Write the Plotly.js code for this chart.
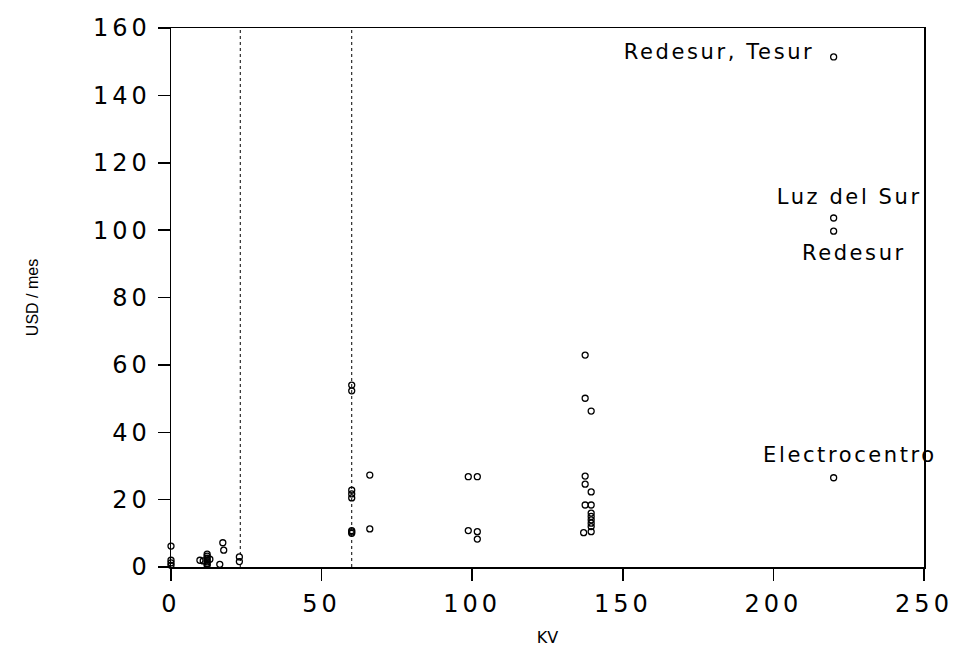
<!DOCTYPE html>
<html>
<head>
<meta charset="utf-8">
<script src="https://cdn.plot.ly/plotly-3.0.1.min.js"></script>
<style>
html,body{margin:0;padding:0;background:#fff;}
#chart{width:953px;height:663px;}
#chart .xtick text, #chart .ytick text {letter-spacing: 4px;}
#chart .annotation-text {letter-spacing: 2.6px;}
</style>
</head>
<body>
<div id="chart"></div>
<script>
// Voltage level (kV) of each observation
const kv = [0, 0, 0, 0, 9.6, 10.7, 12, 12, 12, 12, 12, 12, 12, 12.9, 16.2, 17.2, 17.5, 22.7, 22.7,
  60, 60, 60, 60, 60, 60, 60, 60, 66, 66,
  98.7, 98.7, 101.7, 101.7, 101.7,
  137.5, 137.5, 139.5, 137.5, 137.5, 139.5, 137.5, 139.5, 139.5, 139.5, 139.5, 139.5, 139.5, 137, 139.5,
  220, 220, 220, 220];
// Cost (USD / mes) of each observation
const usd = [6.2, 2, 1.2, 0.5, 2, 1.8, 3.8, 3.2, 2.6, 2, 1.5, 1, 0.5, 2.3, 0.8, 7.2, 5, 3, 1.6,
  54, 52.3, 22.8, 21.7, 20.5, 10.8, 10.4, 10, 27.3, 11.3,
  26.8, 10.8, 26.8, 10.5, 8.3,
  62.9, 50.1, 46.3, 27, 24.6, 22.3, 18.4, 18.4, 16, 15, 14, 13, 12, 10.2, 10.5,
  151.4, 103.6, 99.7, 26.5];
// Reference voltage lines (kV)
const refKV = [23, 60];
const yRange = [0, 160];
const xTicks = [0, 50, 100, 150, 200, 250];
const yTicks = [0, 20, 40, 60, 80, 100, 120, 140, 160];
// Labels for named companies
const labelText = ["Redesur, Tesur", "Luz del Sur", "Redesur", "Electrocentro"];
const labelX = [181.8, 225.3, 226.8, 225.4];
const labelY = [152.8, 109.8, 93.2, 33.2];

const FONT = "DejaVu Sans, Liberation Sans, Arial, sans-serif";

const traces = refKV.map(v => ({
  x: [v, v], y: yRange, mode: "lines", type: "scatter",
  line: {color: "#000", width: 1, dash: "dot"}, hoverinfo: "skip", showlegend: false
}));
traces.push({
  x: kv, y: usd, mode: "markers", type: "scatter", cliponaxis: false,
  marker: {symbol: "circle-open", size: 6, color: "#000", line: {color: "#000", width: 1.3}},
  showlegend: false
});

const annotations = labelText.map((t, i) => ({
  text: t, x: labelX[i], y: labelY[i], xref: "x", yref: "y",
  showarrow: false, xanchor: "center", yanchor: "middle",
  font: {family: FONT, size: 21, color: "#000"}
}));

const layout = {
  width: 953, height: 663,
  margin: {l: 171, r: 29, t: 28, b: 96},
  paper_bgcolor: "#fff", plot_bgcolor: "#fff",
  xaxis: {
    range: [0, 250], tickvals: xTicks, ticks: "outside", ticklen: 12, tickwidth: 1.5, tickcolor: "#000",
    showline: true, mirror: true, linecolor: "#000", linewidth: 1.5,
    showgrid: false, zeroline: false, ticklabelstandoff: 3,
    tickfont: {family: FONT, size: 24, color: "#000"},
    title: {text: "KV", font: {family: FONT, size: 16, color: "#000"}, standoff: 14}
  },
  yaxis: {
    range: yRange, tickvals: yTicks, ticks: "outside", ticklen: 12, tickwidth: 1.5, tickcolor: "#000",
    showline: true, mirror: true, linecolor: "#000", linewidth: 1.5,
    showgrid: false, zeroline: false, ticklabelstandoff: 2,
    tickfont: {family: FONT, size: 24, color: "#000"},
    title: {text: "USD / mes", font: {family: "Liberation Sans Narrow, Liberation Sans, Arial", size: 16, color: "#000"}, standoff: 62}
  },
  annotations: annotations,
  showlegend: false
};

Plotly.newPlot("chart", traces, layout, {displayModeBar: false, staticPlot: true});
</script>
</body>
</html>
